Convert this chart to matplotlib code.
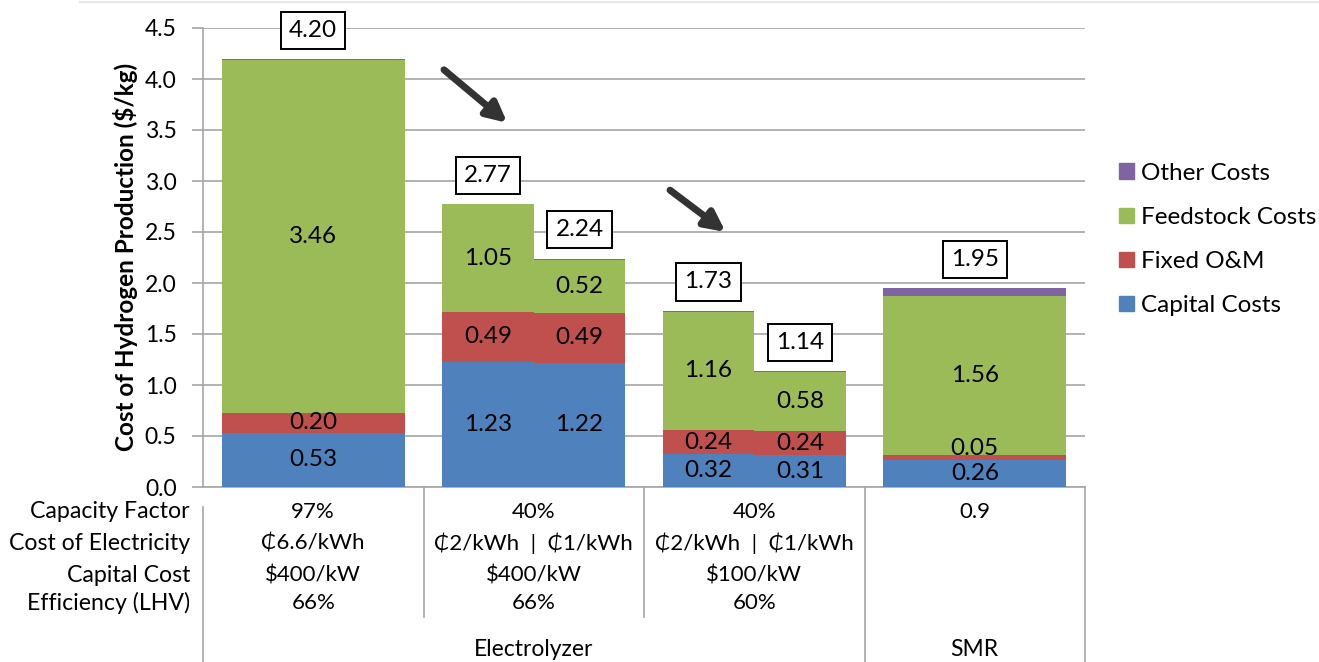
import matplotlib
matplotlib.use("Agg")
import matplotlib.pyplot as plt
from matplotlib.lines import Line2D
from matplotlib.patches import Patch

plt.rcParams['font.family'] = ['Lato', 'DejaVu Sans']

# data: six bars (one wide, two split groups, one wide)
capital = [0.53, 1.23, 1.22, 0.32, 0.31, 0.26]
fixed_om = [0.20, 0.49, 0.49, 0.24, 0.24, 0.05]
feedstock = [3.46, 1.05, 0.52, 1.16, 0.58, 1.56]
other = [0.01, 0.00, 0.01, 0.01, 0.01, 0.08]
totals = ['4.20', '2.77', '2.24', '1.73', '1.14', '1.95']
bar_category = [0, 1, 1, 2, 2, 3]
bar_slot = [0, -1, 1, -1, 1, 0]   # 0 = full width, -1/1 = left/right half

series_names = ['Capital Costs', 'Fixed O&M', 'Feedstock Costs', 'Other Costs']
series_colors = ['#4F81BD', '#C0504D', '#9BBB59', '#8064A2']

row_labels = ['Capacity Factor', 'Cost of Electricity', 'Capital Cost', 'Efficiency (LHV)']
table_values = [
    ['97%', '₵6.6/kWh', '$400/kW', '66%'],
    ['40%', '₵2/kWh  |  ₵1/kWh', '$400/kW', '66%'],
    ['40%', '₵2/kWh  |  ₵1/kWh', '$100/kW', '60%'],
    ['0.9', '', '', ''],
]
groups = ['Electrolyzer', 'SMR']
group_span = [(0, 3), (3, 4)]

W, H = 1319, 662
fig = plt.figure(figsize=(W / 100, H / 100), dpi=100)
ax = fig.add_axes([203 / W, 1 - 487 / H, (1085 - 203) / W, (487 - 28) / H])

full_w = 0.83
half_w = full_w / 2
xs, ws = [], []
for c, s in zip(bar_category, bar_slot):
    if s == 0:
        xs.append(c + 0.5)
        ws.append(full_w)
    else:
        xs.append(c + 0.5 + s * half_w / 2)
        ws.append(half_w)

bottom = [0.0] * 6
stack = [capital, fixed_om, feedstock, other]
for vals, name, col in zip(stack, series_names, series_colors):
    ax.bar(xs, vals, width=ws, bottom=bottom, color=col, label=name, zorder=3)
    if name != 'Other Costs':
        for i, v in enumerate(vals):
            y = bottom[i] + v / 2
            if name == 'Fixed O&M' and v < 0.1:
                y = bottom[i] + v + 0.07
            ax.text(xs[i], y, f'{v:.2f}', ha='center', va='center', fontsize=17.5,
                    color='black', zorder=5)
    bottom = [b + v for b, v in zip(bottom, vals)]

for i, t in enumerate(totals):
    ax.text(xs[i], bottom[i] + 0.28, t, ha='center', va='center', fontsize=17.5, zorder=6,
            bbox=dict(boxstyle='square,pad=0.33', fc='white', ec='black', lw=1.4))

# arrows
for (x0, y0, x1, y1) in [(1.093, 4.09, 1.38, 3.57), (2.118, 2.91, 2.37, 2.50)]:
    ax.annotate('', xy=(x1, y1), xytext=(x0, y0),
                arrowprops=dict(arrowstyle='-|>,head_length=1.2,head_width=0.6',
                                color='#333333', lw=5, shrinkA=0, shrinkB=0), zorder=6)

ax.set_xlim(0, 4)
ax.set_ylim(0, 4.5)
ax.set_yticks([i * 0.5 for i in range(10)])
ax.set_yticklabels([f'{i * 0.5:.1f}' for i in range(10)], fontsize=16.5)
ax.set_xticks([])
ax.grid(axis='y', color='#a6a6a6', lw=1.2, zorder=0)
for sp in ['top', 'right']:
    ax.spines[sp].set_visible(False)
ax.spines['left'].set_color('#a6a6a6')
ax.spines['bottom'].set_color('#a6a6a6')
ax.spines['left'].set_linewidth(1.2)
ax.spines['bottom'].set_linewidth(1.2)
ax.tick_params(axis='y', length=8, color='#a6a6a6', width=1.2, pad=11)

fig.text(125 / W, 1 - 257 / H, 'Cost of Hydrogen Production ($/kg)', rotation=90,
         ha='center', va='center', fontsize=17.5, fontweight='bold')

# legend
handles = [Patch(color=c) for c in series_colors[::-1]]
fig.legend(handles, series_names[::-1], loc='upper left', bbox_to_anchor=(1097 / W, 1 - 141 / H),
           frameon=False, fontsize=17.5, handlelength=0.62, handleheight=0.62, handletextpad=0.3,
           labelspacing=0.95)

# table under the axis
def fx(px):
    return px / W

def fy(py):
    return 1 - py / H

row_y = [512, 543, 575, 603]
for lab, y in zip(row_labels, row_y):
    fig.text(fx(190), fy(y), lab, ha='right', va='center', fontsize=16.7)
for c, col_vals in enumerate(table_values):
    cx = ax.transData.transform((c + 0.5, 0))[0] / W
    for v, y in zip(col_vals, row_y):
        if v:
            fig.text(cx, fy(y), v, ha='center', va='center', fontsize=16)

for g, (a, b) in zip(groups, group_span):
    cx = ax.transData.transform(((a + b) / 2, 0))[0] / W
    fig.text(cx, fy(650), g, ha='center', va='center', fontsize=16.5)

sep = '#a6a6a6'
for c in [1, 2]:
    px = ax.transData.transform((c, 0))[0]
    fig.add_artist(Line2D([px / W, px / W], [fy(487), fy(617)], color=sep, lw=1.2))
for c in [3, 4]:
    px = ax.transData.transform((c, 0))[0]
    fig.add_artist(Line2D([px / W, px / W], [fy(487), fy(662)], color=sep, lw=1.2))
fig.add_artist(Line2D([fx(203), fx(203)], [fy(507), fy(662)], color=sep, lw=1.2))
fig.add_artist(Line2D([fx(80), 1], [fy(2), fy(2)], color='#e6e6e6', lw=1.5))

fig.savefig('out.png', dpi=100)
